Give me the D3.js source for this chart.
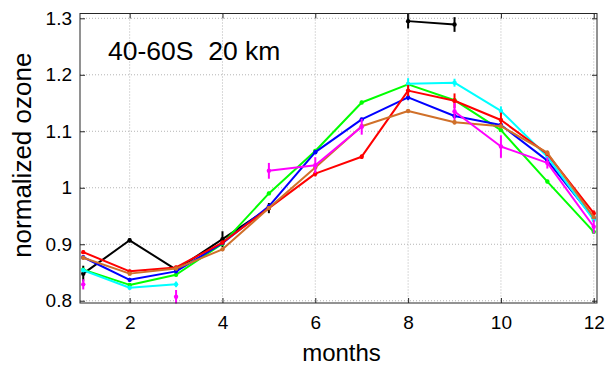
<!DOCTYPE html>
<html>
<head>
<meta charset="utf-8">
<script src="https://cdn.jsdelivr.net/npm/d3@7"></script>
<style>
html, body { margin: 0; padding: 0; background: #fff; }
svg { display: block; font-family: "Liberation Sans", Arial, sans-serif; }
</style>
</head>
<body>
<svg id="chart" width="608" height="365"></svg>
<script>
const months = [1, 2, 3, 4, 5, 6, 7, 8, 9, 10, 11, 12];
const xTicks = [2, 4, 6, 8, 10, 12];
const yTicks = [0.8, 0.9, 1.0, 1.1, 1.2, 1.3];
const yTickLabels = ["0.8", "0.9", "1", "1.1", "1.2", "1.3"];
const N = NaN;

const blackVals   = [0.848, 0.907, 0.855, 0.909, 0.964, N, N, 1.295, 1.289, N, N, N];
const blackErr    = [0.014, 0.004, 0.004, 0.014, 0.009, N, N, 0.013, 0.013, N, N, N];
const greenVals   = [0.855, 0.828, 0.846, 0.901, 0.990, 1.065, 1.151, 1.183, 1.155, 1.102, 1.011, 0.922];
const greenErr    = [0.003, 0.003, 0.003, 0.003, 0.003, 0.003, 0.003, 0.003, 0.003, 0.003, 0.003, 0.003];
const blueVals    = [0.877, 0.837, 0.852, 0.902, 0.967, 1.063, 1.121, 1.160, 1.127, 1.111, 1.048, 0.946];
const blueErr     = [0.003, 0.003, 0.003, 0.003, 0.003, 0.003, 0.003, 0.005, 0.004, 0.004, 0.003, 0.003];
const cyanVals    = [0.854, 0.823, 0.829, N, N, N, N, 1.184, 1.186, 1.136, 1.055, 0.943];
const cyanErr     = [0.003, 0.003, 0.005, N, N, N, N, 0.010, 0.007, 0.008, 0.004, 0.004];
const redVals     = [0.886, 0.852, 0.859, 0.903, 0.964, 1.025, 1.055, 1.172, 1.154, 1.120, 1.060, 0.955];
const redErr      = [0.003, 0.003, 0.003, 0.003, 0.003, 0.005, 0.004, 0.010, 0.013, 0.013, 0.004, 0.005];
const brownVals   = [0.876, 0.848, 0.857, 0.891, 0.964, 1.036, 1.109, 1.136, 1.116, 1.109, 1.062, 0.948];
const brownErr    = [0.003, 0.003, 0.003, 0.003, 0.003, 0.003, 0.003, 0.003, 0.004, 0.003, 0.004, 0.003];
const magentaVals = [0.829, N, 0.807, N, 1.030, 1.040, 1.108, N, 1.135, 1.073, 1.044, 0.931];
const magentaErr  = [0.009, N, 0.012, N, 0.014, 0.014, 0.014, N, 0.015, 0.020, 0.010, 0.012];

const seriesList = [
  { name: "black",   color: "#000000", values: blackVals,   err: blackErr },
  { name: "green",   color: "#00ff00", values: greenVals,   err: greenErr },
  { name: "blue",    color: "#0000ff", values: blueVals,    err: blueErr },
  { name: "cyan",    color: "#00ffff", values: cyanVals,    err: cyanErr },
  { name: "red",     color: "#ff0000", values: redVals,     err: redErr },
  { name: "brown",   color: "#d0702a", values: brownVals,   err: brownErr },
  { name: "magenta", color: "#ff00ff", values: magentaVals, err: magentaErr }
];

const svg = d3.select("#chart");
const L = 80, R = 597, T = 13.5, B = 303;
const x = d3.scaleLinear().domain([0.93, 12.07]).range([L, R]);
const y = d3.scaleLinear().domain([0.796, 1.3085]).range([B, T]);

// grid
const grid = svg.append("g");
grid.selectAll("line.gx").data(xTicks).enter().append("line")
  .attr("x1", d => x(d)).attr("x2", d => x(d)).attr("y1", T).attr("y2", B)
  .attr("stroke", "#b4b4b4").attr("stroke-width", 1).attr("stroke-dasharray", "1,2");
grid.selectAll("line.gy").data(yTicks).enter().append("line")
  .attr("x1", L).attr("x2", R).attr("y1", d => y(d)).attr("y2", d => y(d))
  .attr("stroke", "#b4b4b4").attr("stroke-width", 1).attr("stroke-dasharray", "1,2");

// series
const line = d3.line().defined(d => !isNaN(d.v)).x(d => x(d.m)).y(d => y(d.v));
seriesList.forEach(s => {
  const pts = months.map((m, i) => ({ m: m, v: s.values[i], e: s.err[i] }));
  const g = svg.append("g");
  g.append("path").datum(pts).attr("d", line)
    .attr("fill", "none").attr("stroke", s.color).attr("stroke-width", 2)
    .attr("stroke-linejoin", "round");
  const valid = pts.filter(d => !isNaN(d.v));
  g.selectAll("line.eb").data(valid.filter(d => !isNaN(d.e))).enter().append("line")
    .attr("x1", d => x(d.m)).attr("x2", d => x(d.m))
    .attr("y1", d => y(d.v - d.e)).attr("y2", d => y(d.v + d.e))
    .attr("stroke", s.color).attr("stroke-width", 2);
  g.selectAll("circle").data(valid).enter().append("circle")
    .attr("cx", d => x(d.m)).attr("cy", d => y(d.v)).attr("r", 2.2)
    .attr("fill", s.color);
});

// frame
svg.append("rect").attr("x", L).attr("y", T).attr("width", R - L).attr("height", B - T)
  .attr("fill", "none").attr("stroke", "#262626").attr("stroke-width", 1);

// axes
const xAxisB = d3.axisBottom(x).tickValues(xTicks).tickSize(-5).tickPadding(13).tickFormat(d3.format("d"));
const xAxisT = d3.axisTop(x).tickValues(xTicks).tickSize(-5).tickFormat("");
const yAxisL = d3.axisLeft(y).tickValues(yTicks).tickSize(-5).tickPadding(8).tickFormat((d, i) => yTickLabels[i]);
const yAxisR = d3.axisRight(y).tickValues(yTicks).tickSize(-5).tickFormat("");

function style(g) {
  g.select(".domain").remove();
  g.selectAll(".tick line").attr("stroke", "#262626");
  g.selectAll(".tick text").attr("fill", "#000").attr("font-size", 19)
    .attr("font-family", "'Liberation Sans', Arial, sans-serif");
}
svg.append("g").attr("transform", `translate(0,${B})`).call(xAxisB).call(style);
svg.append("g").attr("transform", `translate(0,${T})`).call(xAxisT).call(style);
svg.append("g").attr("transform", `translate(${L},0)`).call(yAxisL).call(style);
svg.append("g").attr("transform", `translate(${R},0)`).call(yAxisR).call(style);

// labels
svg.append("text").attr("x", (L + R) / 2 + 3).attr("y", 361).attr("text-anchor", "middle")
  .attr("font-size", 24).text("months");
svg.append("text").attr("transform", `translate(31,${(T + B) / 2 - 3}) rotate(-90)`)
  .attr("text-anchor", "middle").attr("font-size", 26).text("normalized ozone");
svg.append("text").attr("x", 108).attr("y", 60).attr("font-size", 26.5)
  .attr("xml:space", "preserve").style("white-space", "pre").text("40-60S  20 km");
</script>
</body>
</html>
